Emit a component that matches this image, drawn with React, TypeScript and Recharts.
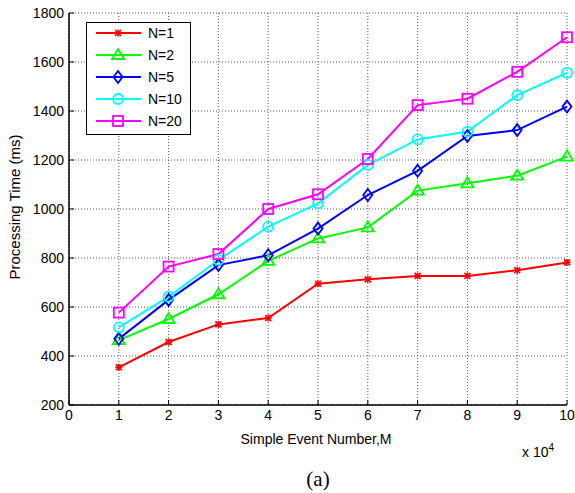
import { CartesianGrid, Line, LineChart, XAxis, YAxis } from 'recharts';

const eventNumbers = [1, 2, 3, 4, 5, 6, 7, 8, 9, 10];
const n1 = [354, 457, 529, 555, 695, 713, 727, 727, 750, 782];
const n2 = [465, 551, 652, 788, 880, 925, 1075, 1105, 1136, 1214];
const n5 = [470, 629, 771, 811, 920, 1057, 1156, 1298, 1322, 1418];
const n10 = [517, 642, 792, 928, 1023, 1180, 1284, 1316, 1465, 1556];
const n20 = [577, 765, 816, 1000, 1060, 1204, 1424, 1450, 1560, 1701];
const xTicks = [0, 1, 2, 3, 4, 5, 6, 7, 8, 9, 10];
const yTicks = [200, 400, 600, 800, 1000, 1200, 1400, 1600, 1800];

type Shape = 'star' | 'tri' | 'diamond' | 'circle' | 'square';

const series: { key: string; name: string; color: string; shape: Shape }[] = [
  { key: 'n1', name: 'N=1', color: '#ff0000', shape: 'star' },
  { key: 'n2', name: 'N=2', color: '#00ff00', shape: 'tri' },
  { key: 'n5', name: 'N=5', color: '#0000ff', shape: 'diamond' },
  { key: 'n10', name: 'N=10', color: '#00ffff', shape: 'circle' },
  { key: 'n20', name: 'N=20', color: '#ff00ff', shape: 'square' },
];

const data = eventNumbers.map((x, i) => ({
  x,
  n1: n1[i],
  n2: n2[i],
  n5: n5[i],
  n10: n10[i],
  n20: n20[i],
}));

const FONT = '"Liberation Sans", Arial, sans-serif';

function Marker({ cx, cy, shape, color }: { cx: number; cy: number; shape: Shape; color: string }) {
  const common = { fill: 'none', stroke: color, strokeWidth: 1.8 };
  switch (shape) {
    case 'star':
      return (
        <g stroke={color} strokeWidth={1.6}>
          <line x1={cx - 3} y1={cy - 3} x2={cx + 3} y2={cy + 3} />
          <line x1={cx - 3} y1={cy + 3} x2={cx + 3} y2={cy - 3} />
          <line x1={cx} y1={cy - 3.5} x2={cx} y2={cy + 3.5} />
          <line x1={cx - 3.5} y1={cy} x2={cx + 3.5} y2={cy} />
        </g>
      );
    case 'tri':
      return <path d={`M${cx},${cy - 6} L${cx + 6},${cy + 4} L${cx - 6},${cy + 4} Z`} {...common} />;
    case 'diamond':
      return <path d={`M${cx},${cy - 6} L${cx + 4.5},${cy} L${cx},${cy + 6} L${cx - 4.5},${cy} Z`} {...common} />;
    case 'circle':
      return <circle cx={cx} cy={cy} r={5} {...common} />;
    default:
      return <rect x={cx - 5} y={cy - 5} width={10} height={10} {...common} />;
  }
}

function LegendBox() {
  return (
    <svg width={105} height={113} style={{ display: 'block' }}>
      <rect x={0.5} y={0.5} width={104} height={112} fill="#fff" stroke="#000" strokeWidth={1} />
      {series.map((s, i) => {
        const y = 11 + i * 22;
        return (
          <g key={s.key}>
            <line x1={10} y1={y} x2={55} y2={y} stroke={s.color} strokeWidth={2} />
            <Marker cx={32} cy={y} shape={s.shape} color={s.color} />
            <text x={62} y={y + 5} fontSize={14} fontFamily={FONT} fill="#000">
              {s.name}
            </text>
          </g>
        );
      })}
    </svg>
  );
}

export default function App() {
  return (
    <div style={{ position: 'absolute', left: 0, top: 0, width: 575, height: 493, background: '#fff' }}>
      <LineChart
        width={575}
        height={493}
        data={data}
        margin={{ top: 13, right: 8, bottom: 58, left: 0 }}
      >
        <CartesianGrid stroke="#555" strokeDasharray="1 2" />
        <XAxis
          dataKey="x"
          type="number"
          domain={[0, 10]}
          ticks={xTicks}
          height={30}
          stroke="#000"
          tickSize={-5}
          tickMargin={10}
          tick={{ fill: '#000', fontSize: 14, fontFamily: FONT }}
          axisLine={{ stroke: '#000', strokeWidth: 1.5 }}
        />
        <XAxis
          xAxisId="top"
          orientation="top"
          dataKey="x"
          type="number"
          domain={[0, 10]}
          ticks={xTicks}
          height={0}
          tickSize={-5}
          tickFormatter={() => ''}
          stroke="#000"
          axisLine={{ stroke: '#000', strokeWidth: 1.5 }}
        />
        <YAxis
          domain={[200, 1800]}
          ticks={yTicks}
          width={69}
          stroke="#000"
          tickSize={-5}
          tickMargin={10}
          tick={{ fill: '#000', fontSize: 14, fontFamily: FONT }}
          axisLine={{ stroke: '#000', strokeWidth: 1.5 }}
        />
        <YAxis
          yAxisId="right"
          orientation="right"
          domain={[200, 1800]}
          ticks={yTicks}
          width={0}
          tickSize={-5}
          tickFormatter={() => ''}
          stroke="#000"
          axisLine={{ stroke: '#000', strokeWidth: 1.5 }}
        />
        {series.map((s) => (
          <Line
            key={s.key}
            dataKey={s.key}
            name={s.name}
            stroke={s.color}
            strokeWidth={2}
            isAnimationActive={false}
            dot={(p: any) => (
              <Marker key={`${s.key}-${p.index}`} cx={p.cx} cy={p.cy} shape={s.shape} color={s.color} />
            )}
            activeDot={false}
          />
        ))}
      </LineChart>
      <div style={{ position: 'absolute', left: 86, top: 22 }}>
        <LegendBox />
      </div>
      <div
        style={{
          position: 'absolute',
          left: 14,
          top: 207,
          transform: 'translate(-50%, -50%) rotate(-90deg)',
          whiteSpace: 'nowrap',
          fontFamily: FONT,
          fontSize: 15,
        }}
      >
        Processing Time (ms)
      </div>
      <div
        style={{
          position: 'absolute',
          left: 316,
          top: 439,
          transform: 'translate(-50%, -50%)',
          whiteSpace: 'nowrap',
          fontFamily: FONT,
          fontSize: 14,
        }}
      >
        Simple Event Number,M
      </div>
      <div
        style={{
          position: 'absolute',
          left: 522,
          top: 442,
          whiteSpace: 'nowrap',
          fontFamily: FONT,
          fontSize: 14,
        }}
      >
        x 10<sup style={{ fontSize: 10, verticalAlign: 6 }}>4</sup>
      </div>
      <div
        style={{
          position: 'absolute',
          left: 318,
          top: 479,
          transform: 'translate(-50%, -50%)',
          fontFamily: '"Liberation Serif", "Times New Roman", serif',
          fontSize: 21,
        }}
      >
        (a)
      </div>
    </div>
  );
}
